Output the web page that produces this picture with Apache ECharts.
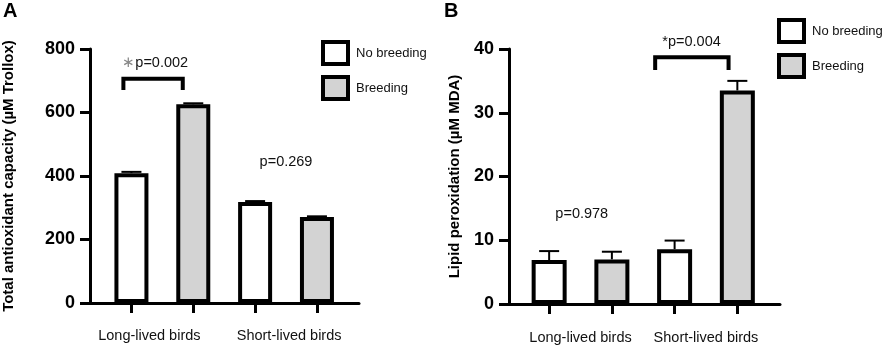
<!DOCTYPE html>
<html>
<head>
<meta charset="utf-8">
<script src="https://cdn.jsdelivr.net/npm/echarts@6/dist/echarts.min.js"></script>
<style>
  html, body { margin: 0; padding: 0; background: #fff; }
  #chart { width: 886px; height: 348px; }
</style>
</head>
<body>
<div id="chart"></div>
<script>
// groups and series
const groups = ['Long-lived birds', 'Short-lived birds'];
const seriesNames = ['No breeding', 'Breeding'];

// panel A: total antioxidant capacity (µM Trollox)
const noBreedA = [409, 318];
const breedA = [626, 271];
const noBreedErrA = [4, 3];
const breedErrA = [3, 2];
const ticksA = [0, 200, 400, 600, 800];
const pTextA = ['{g|\u2217}p=0.002', 'p=0.269'];

// panel B: lipid peroxidation (µM MDA)
const noBreedB = [6.9, 8.6];
const breedB = [7.0, 33.5];
const noBreedErrB = [1.4, 1.35];
const breedErrB = [1.2, 1.5];
const ticksB = [0, 10, 20, 30, 40];
const pTextB = ['p=0.978', '*p=0.004'];

const chart = echarts.init(document.getElementById('chart'));
const FONT = 'Arial, "Liberation Sans", Helvetica, sans-serif';
const GRAY = '#d3d3d3';

// bar positions on the x value axis: group g, series s -> 2*g + s
function barData(vals, s) {
  return vals.map((v, g) => [2 * g + s, v]);
}
function errData(vals, errs, s) {
  return vals.map((v, g) => [2 * g + s, v, errs[g]]);
}

function errorSeries(idx, data) {
  return {
    type: 'custom',
    xAxisIndex: idx, yAxisIndex: idx,
    z: 5,
    silent: true,
    renderItem: function (params, api) {
      const x = api.value(0), v = api.value(1), e = api.value(2);
      const p0 = api.coord([x, v]);
      const p1 = api.coord([x, v + e]);
      const hw = 10;
      return {
        type: 'group',
        children: [
          { type: 'line', shape: { x1: p0[0], y1: p0[1], x2: p1[0], y2: p1[1] }, style: { stroke: '#000', lineWidth: 2 } },
          { type: 'line', shape: { x1: p1[0] - hw, y1: p1[1], x2: p1[0] + hw, y2: p1[1] }, style: { stroke: '#000', lineWidth: 2 } }
        ]
      };
    },
    data: data
  };
}

// significance annotations: bracket [x1, x2, yTop, yLeg] + labels [x, y]
function annotSeries(idx, bracket, labels, texts) {
  return {
    type: 'custom',
    xAxisIndex: idx, yAxisIndex: idx,
    clip: false,
    silent: true,
    z: 6,
    renderItem: function (params, api) {
      const children = [];
      if (params.dataIndex === 0 && bracket) {
        const a = api.coord([bracket[0], bracket[3]]);
        const b = api.coord([bracket[0], bracket[2]]);
        const c = api.coord([bracket[1], bracket[2]]);
        const d = api.coord([bracket[1], bracket[3]]);
        children.push({
          type: 'polyline',
          shape: { points: [a, b, c, d] },
          style: { stroke: '#000', lineWidth: 4, fill: null, lineJoin: 'miter' }
        });
      }
      const pt = api.coord([api.value(0), api.value(1)]);
      children.push({
        type: 'text',
        x: pt[0], y: pt[1],
        style: {
          text: texts[params.dataIndex],
          fill: '#111', fontSize: 14.5, fontFamily: FONT,
          align: 'center', verticalAlign: 'middle',
          rich: { g: { fill: '#888', fontSize: 14.5, fontFamily: FONT } }
        }
      });
      return { type: 'group', children: children };
    },
    data: labels
  };
}

function barSeries(idx, name, data, fill, bw) {
  return {
    name: name,
    type: 'bar',
    xAxisIndex: idx, yAxisIndex: idx,
    barWidth: bw,
    barGap: '-100%',
    itemStyle: { color: fill, borderColor: '#000', borderWidth: 4 },
    data: data
  };
}

function xAxisCfg(idx, min, max, labelPos, margin) {
  return {
    type: 'value', gridIndex: idx, min: min, max: max,
    axisLine: { show: true, onZero: false, lineStyle: { color: '#000', width: 3 } },
    axisTick: { show: true, customValues: [0, 1, 2, 3], length: 10, lineStyle: { color: '#000', width: 3 } },
    axisLabel: {
      customValues: labelPos,
      margin: margin,
      color: '#111', fontSize: 14.5, fontFamily: FONT,
      formatter: function (v) { return v < 1.5 ? groups[0] : groups[1]; }
    },
    splitLine: { show: false }
  };
}

function yAxisCfg(idx, ticks, name, gap) {
  return {
    type: 'value', gridIndex: idx,
    min: ticks[0], max: ticks[ticks.length - 1], interval: ticks[1] - ticks[0],
    name: name, nameLocation: 'middle', nameGap: gap,
    nameTextStyle: { color: '#000', fontSize: 15, fontWeight: 'bold', fontFamily: FONT },
    axisLine: { show: true, onZero: false, lineStyle: { color: '#000', width: 3 } },
    axisTick: { show: true, length: 10, lineStyle: { color: '#000', width: 3 } },
    axisLabel: { margin: 15, color: '#000', fontSize: 18, fontWeight: 'bold', fontFamily: FONT },
    splitLine: { show: false }
  };
}

function legendCfg(left, top) {
  return {
    left: left, top: top, orient: 'vertical', padding: 0,
    icon: 'rect', itemWidth: 25, itemHeight: 22, itemGap: 9,
    selectedMode: false,
    itemStyle: { borderColor: '#000', borderWidth: 4 },
    textStyle: { color: '#111', fontSize: 13, fontFamily: FONT, padding: [0, 0, 0, 3] },
    data: seriesNames
  };
}

chart.setOption({
  animation: false,
  backgroundColor: '#fff',
  title: [
    { text: 'A', left: 3, top: 1, padding: 0, textStyle: { fontSize: 20, fontWeight: 'bold', fontFamily: FONT, color: '#000' } },
    { text: 'B', left: 444, top: 1, padding: 0, textStyle: { fontSize: 20, fontWeight: 'bold', fontFamily: FONT, color: '#000' } }
  ],
  legend: [legendCfg(321, 40), legendCfg(777, 18)],
  grid: [
    { left: 89, top: 49, width: 270, height: 254 },
    { left: 509, top: 49, width: 271, height: 255 }
  ],
  xAxis: [
    xAxisCfg(0, -0.67, 3.68, [0.29, 2.55], 25),
    xAxisCfg(1, -0.64, 3.68, [0.5, 2.5], 26)
  ],
  yAxis: [
    yAxisCfg(0, ticksA, 'Total antioxidant capacity (\u00b5M Trollox)', 74),
    yAxisCfg(1, ticksB, 'Lipid peroxidation (\u00b5M MDA)', 47)
  ],
  series: [
    barSeries(0, seriesNames[0], barData(noBreedA, 0), '#fff', 34),
    barSeries(0, seriesNames[1], barData(breedA, 1), GRAY, 34),
    errorSeries(0, errData(noBreedA, noBreedErrA, 0).concat(errData(breedA, breedErrA, 1))),
    annotSeries(0, [-0.13, 0.83, 706, 671], [[0.385, 756], [2.5, 444]], pTextA),
    barSeries(1, seriesNames[0], barData(noBreedB, 0), '#fff', 35),
    barSeries(1, seriesNames[1], barData(breedB, 1), GRAY, 35),
    errorSeries(1, errData(noBreedB, noBreedErrB, 0).concat(errData(breedB, breedErrB, 1))),
    annotSeries(1, [1.69, 2.86, 38.7, 36.7], [[0.52, 14.1], [2.27, 41.1]], pTextB)
  ]
});
window.addEventListener('resize', function () { chart.resize(); });
</script>
</body>
</html>
